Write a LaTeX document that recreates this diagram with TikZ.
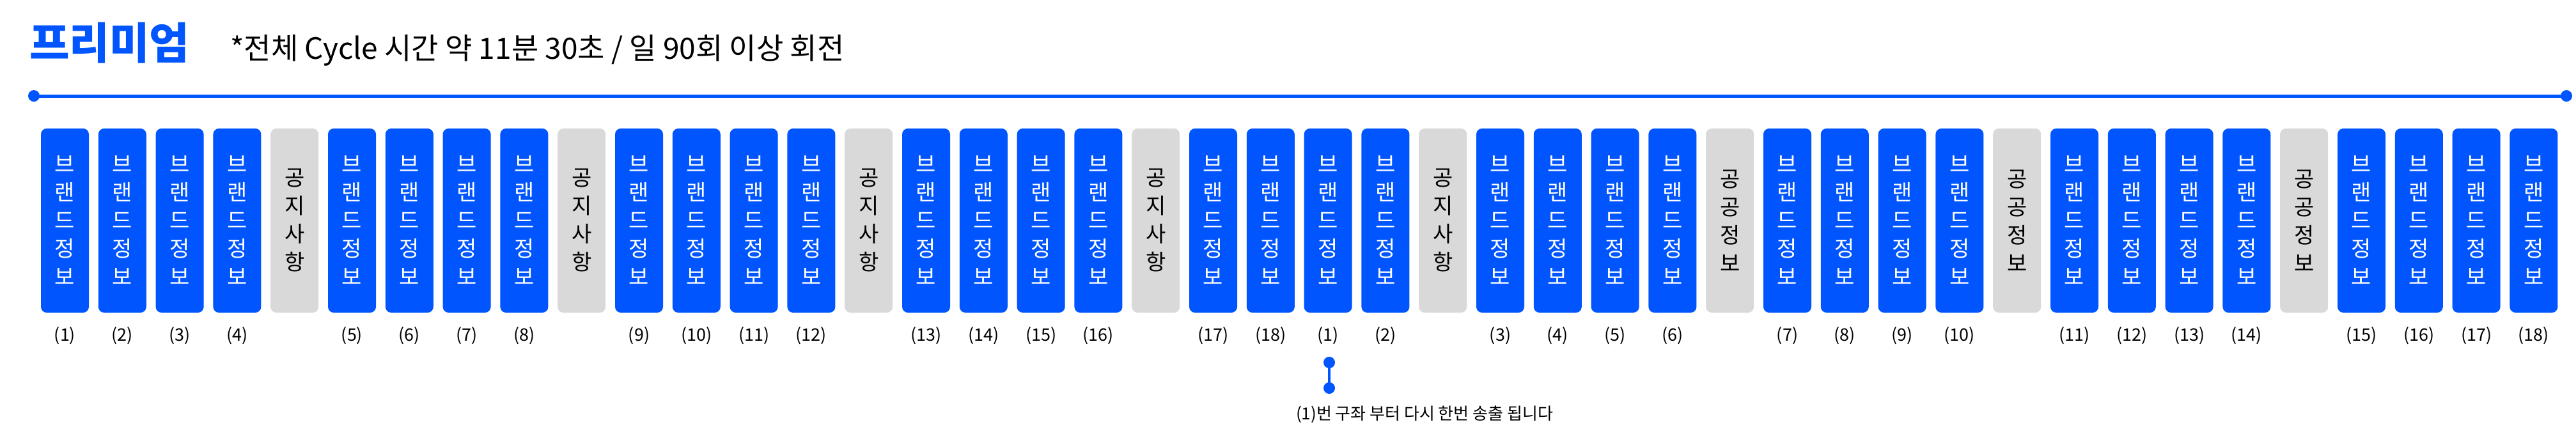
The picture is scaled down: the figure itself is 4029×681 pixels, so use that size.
\documentclass[tikz,border=0pt]{standalone}
\usepackage{fontspec}
\setmainfont{Noto Sans CJK KR}
\definecolor{brandblue}{HTML}{0055FF}
\definecolor{boxgray}{HTML}{D9D9D9}
\begin{document}
\begin{tikzpicture}[x=1pt,y=-1pt,
  bluebox/.style={fill=brandblue, rounded corners=9pt, minimum width=75pt, minimum height=288pt,
    inner sep=0pt, text=white, align=center, font=\fontsize{34}{44}\selectfont},
  graybox/.style={bluebox, fill=boxgray, text=black},
  numlabel/.style={font=\fontsize{27}{27}\selectfont, inner sep=0pt, text=black},
  timeline/.style={draw=brandblue, line width=5pt},
  linkline/.style={draw=brandblue, line width=3.5pt},
  dotmark/.style={fill=brandblue}
]
\useasboundingbox (0,0) rectangle (4029,681);

% title and subtitle
\node[anchor=west, inner sep=0pt, text=brandblue, font=\fontsize{68}{68}\selectfont\bfseries] (title) at (46,67) {프리미엄};
\node[anchor=west, inner sep=0pt, font=\fontsize{46}{46}\selectfont] (subtitle) at (360,79) {*전체 Cycle 시간 약 11분 30초 / 일 90회 이상 회전};

% timeline
\coordinate (ls) at (53,150);
\coordinate (le) at (4014,150);
\draw[timeline] (ls) -- (le);
\fill[dotmark] (ls) circle[radius=9];
\fill[dotmark] (le) circle[radius=9];

% boxes
\foreach \i in {0,...,43} {
  \pgfmathsetmacro\xc{101.5+89.8*\i}
  \pgfmathtruncatemacro\g{int(\i/5)}
  \pgfmathtruncatemacro\k{mod(\i,5)}
  \ifnum\k=4
    \ifnum\g<5
      \node[graybox] (b\i) at (\xc,345) {공\\지\\사\\항};
    \else
      \node[graybox] (b\i) at (\xc,345) {공\\공\\정\\보};
    \fi
  \else
    \pgfmathtruncatemacro\n{mod(\g*4+\k,18)+1}
    \node[bluebox] (b\i) at (\xc,345) {브\\랜\\드\\정\\보};
    \node[numlabel] (l\i) at (\xc,525) {(\n)};
  \fi
}

% restart marker
\coordinate (c1) at (2079,567);
\coordinate (c2) at (2079,607);
\draw[linkline] (c1) -- (c2);
\fill[dotmark] (c1) circle[radius=9];
\fill[dotmark] (c2) circle[radius=9];
\node[inner sep=0pt, font=\fontsize{26}{26}\selectfont] (note) at (2228,648) {(1)번 구좌 부터 다시 한번 송출 됩니다};
\end{tikzpicture}
\end{document}
